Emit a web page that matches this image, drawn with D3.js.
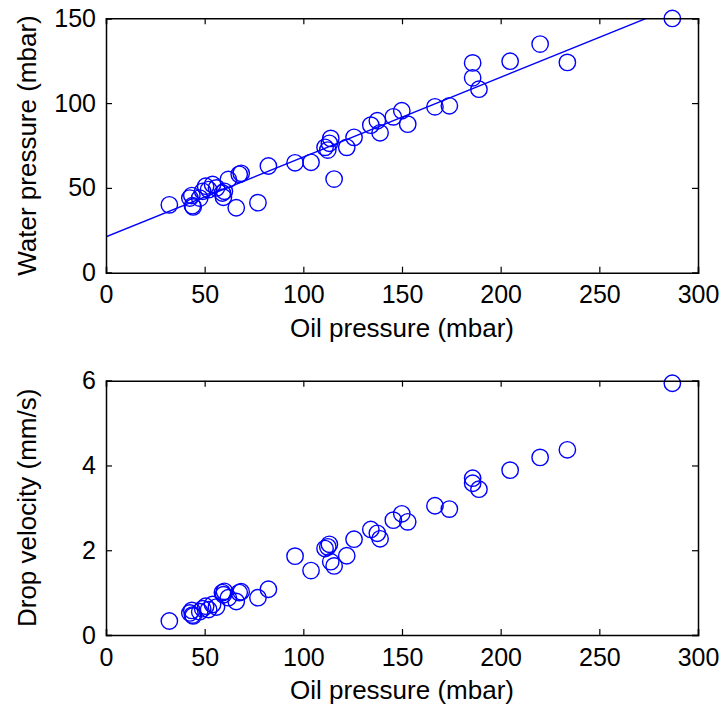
<!DOCTYPE html>
<html>
<head>
<meta charset="utf-8">
<script src="https://cdn.jsdelivr.net/npm/d3@7"></script>
<style>
  body { margin: 0; background: #fff; }
  text { font-family: "Liberation Sans", Arial, sans-serif; fill: #000; }
</style>
</head>
<body>
<svg width="723" height="704"></svg>
<script>
// oil pressure (mbar), shared by both panels
let oilPressure = [32.1, 42.5, 43.5, 43.8, 44.2, 47.5, 49, 50.5, 52, 54, 56, 59, 59.5, 60, 62,
    66, 67.5, 68.5, 77, 82.3, 95.8, 103.9, 111, 112.4, 113.2, 113.9, 115.6, 122, 125.7,
    134.2, 137.5, 138.9, 145.6, 149.9, 152.9, 166.7, 174, 185.8, 185.8, 189, 204.8, 220,
    233.8, 287];
let waterPressure = [40, 44, 45.5, 39.5, 38.8, 44, 48, 51, 49, 52, 50, 47, 44.5, 48, 55,
    38.3, 58, 58.6, 41.3, 62.9, 64.8, 65.1, 73.9, 72.3, 76.3, 79.2, 55.2, 73.9, 79.8,
    87, 89.6, 82.5, 91.9, 95.5, 87.6, 97.8, 98.4, 123.7, 114.9, 108.2, 124.7, 134.8,
    124, 149.9];
let dropVelocity = [0.33, 0.52, 0.58, 0.47, 0.45, 0.55, 0.62, 0.68, 0.6, 0.72, 0.66, 1.0, 0.95, 1.03, 0.88,
    0.79, 1.0, 1.02, 0.88, 1.08, 1.86, 1.52, 2.04, 2.08, 2.14, 1.73, 1.63, 1.87, 2.26,
    2.49, 2.4, 2.27, 2.71, 2.86, 2.67, 3.05, 2.97, 3.7, 3.58, 3.44, 3.89, 4.19,
    4.37, 5.94];

let xTicks = [0, 50, 100, 150, 200, 250, 300];
let waterTicks = [0, 50, 100, 150];
let velocityTicks = [0, 2, 4, 6];

let svg = d3.select("svg");
let left = 106, right = 698;
let blue = "#0000ff";

function drawPanel(top, bottom, yValues, yTicks, yLabel, id, fit) {
    let x = d3.scaleLinear().domain([0, 300]).range([left, right]);
    let y = d3.scaleLinear().domain([yTicks[0], yTicks[yTicks.length - 1]]).range([bottom, top]);
    let g = svg.append("g");

    g.append("clipPath").attr("id", id)
        .append("rect")
        .attr("x", left).attr("y", top)
        .attr("width", right - left).attr("height", bottom - top);

    if (fit) {
        // least squares line through the points
        let mx = d3.mean(oilPressure), my = d3.mean(yValues);
        let sxy = d3.sum(oilPressure, (d, i) => (d - mx) * (yValues[i] - my));
        let sxx = d3.sum(oilPressure, d => (d - mx) * (d - mx));
        let slope = sxy / sxx, icpt = my - slope * mx;
        g.append("line")
            .attr("clip-path", "url(#" + id + ")")
            .attr("x1", x(0)).attr("y1", y(icpt))
            .attr("x2", x(300)).attr("y2", y(icpt + slope * 300))
            .attr("stroke", blue)
            .attr("stroke-width", 1.4);
    }

    g.selectAll("circle")
        .data(oilPressure)
        .enter()
        .append("circle")
        .attr("cx", d => x(d))
        .attr("cy", (d, i) => y(yValues[i]))
        .attr("r", 8.2)
        .attr("fill", "none")
        .attr("stroke", blue)
        .attr("stroke-width", 1.4);

    let tickLen = 6;
    let axes = [
        d3.axisBottom(x).tickValues(xTicks).tickSize(-tickLen).tickPadding(13),
        d3.axisTop(x).tickValues(xTicks).tickSize(-tickLen).tickFormat(""),
        d3.axisLeft(y).tickValues(yTicks).tickSize(-tickLen).tickPadding(10).tickFormat(d3.format("d")),
        d3.axisRight(y).tickValues(yTicks).tickSize(-tickLen).tickFormat("")
    ];
    let shifts = [[0, bottom], [0, top], [left, 0], [right, 0]];
    axes.forEach((a, i) => {
        let ax = g.append("g")
            .attr("transform", "translate(" + shifts[i][0] + "," + shifts[i][1] + ")")
            .call(a);
        ax.select(".domain").attr("stroke", "#000").attr("stroke-width", 1.5);
        ax.selectAll(".tick line").attr("stroke", "#000").attr("stroke-width", 1.2);
        ax.selectAll("text")
            .style("font-size", "25px")
            .attr("fill", "#000");
    });

    g.append("text")
        .attr("x", (left + right) / 2)
        .attr("y", bottom + 64)
        .attr("text-anchor", "middle")
        .style("font-size", "26px")
        .text("Oil pressure (mbar)");

    g.append("text")
        .attr("transform", "translate(36," + (top + bottom) / 2 + ") rotate(-90)")
        .attr("text-anchor", "middle")
        .style("font-size", "26px")
        .text(yLabel);
}

drawPanel(18.3, 272.7, waterPressure, waterTicks, "Water pressure (mbar)", "clipTop", true);
drawPanel(380.7, 635, dropVelocity, velocityTicks, "Drop velocity (mm/s)", "clipBottom", false);
</script>
</body>
</html>
